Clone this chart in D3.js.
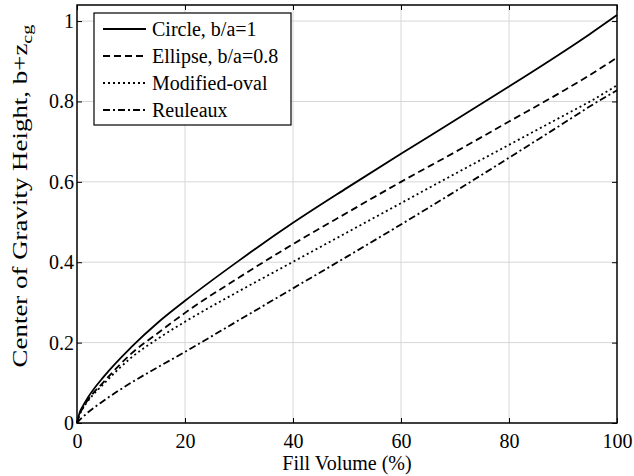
<!DOCTYPE html>
<html>
<head>
<meta charset="utf-8">
<script src="https://cdn.jsdelivr.net/npm/d3@7/dist/d3.min.js"></script>
<style>
  html, body { margin: 0; padding: 0; background: #fff; }
  svg { display: block; }
  svg text { font-family: "Liberation Serif", "DejaVu Serif", serif !important; fill: #000; }
</style>
</head>
<body>
<svg id="chart" width="634" height="476"></svg>
<script>
// ---- data ----
const fillVolume = [0, 0.5, 1, 2, 5, 10, 15, 20, 30, 40, 50, 60, 70, 80, 90, 95, 100];
const circle      = [0, 0.026, 0.040, 0.063, 0.116, 0.188, 0.250, 0.304, 0.404, 0.498, 0.585, 0.670, 0.753, 0.837, 0.923, 0.968, 1.015];
const ellipse     = [0, 0.022, 0.036, 0.057, 0.103, 0.172, 0.224, 0.274, 0.362, 0.445, 0.523, 0.600, 0.674, 0.750, 0.826, 0.866, 0.909];
const modifiedOval= [0, 0.021, 0.034, 0.054, 0.098, 0.162, 0.210, 0.252, 0.328, 0.401, 0.474, 0.547, 0.620, 0.692, 0.764, 0.800, 0.840];
const reuleaux    = [0, 0.008, 0.014, 0.026, 0.056, 0.100, 0.139, 0.177, 0.256, 0.335, 0.414, 0.494, 0.576, 0.660, 0.745, 0.788, 0.828];
const seriesNames = ["Circle, b/a=1", "Ellipse, b/a=0.8", "Modified-oval", "Reuleaux"];
const xTicks = [0, 20, 40, 60, 80, 100];
const yTicks = [0, 0.2, 0.4, 0.6, 0.8, 1];
const xLabel = "Fill Volume (%)";
const yLabelMain = "Center of Gravity Height, b+z";
const yLabelSub = "cg";

// ---- layout ----
const FONT = '"Liberation Serif", "DejaVu Serif", serif';
const L = 77, R = 617, T = 5, B = 423;
const svg = d3.select("#chart");
const x = d3.scaleLinear().domain([0, 100]).range([L, R]);
const y = d3.scaleLinear().domain([0, 1.04]).range([B, T]);

const dashes = [null, "7,4", "2,3", "7,3,2,3"];
const allSeries = [circle, ellipse, modifiedOval, reuleaux];

// grid
const grid = svg.append("g");
grid.selectAll(".gx").data(xTicks.filter(d => d > 0 && d < 100)).enter().append("line")
  .attr("x1", d => x(d)).attr("x2", d => x(d)).attr("y1", T).attr("y2", B)
  .attr("stroke", "#d6d6d6").attr("stroke-width", 1);
grid.selectAll(".gy").data(yTicks.filter(d => d > 0)).enter().append("line")
  .attr("x1", L).attr("x2", R).attr("y1", d => y(d)).attr("y2", d => y(d))
  .attr("stroke", "#d6d6d6").attr("stroke-width", 1);

// axes
function styleAxis(g, showLabels) {
  g.attr("font-family", FONT);
  g.select(".domain").remove();
  g.selectAll(".tick line").attr("stroke", "#000").attr("stroke-width", 1);
  if (!showLabels) g.selectAll(".tick text").remove();
  else g.selectAll(".tick text").attr("font-size", 20);
}
svg.append("g").attr("transform", `translate(0,${B})`)
  .call(d3.axisBottom(x).tickValues(xTicks).tickSize(-5).tickPadding(11).tickFormat(d3.format("d")))
  .call(g => styleAxis(g, true));
svg.append("g").attr("transform", `translate(0,${T})`)
  .call(d3.axisTop(x).tickValues(xTicks).tickSize(-5))
  .call(g => styleAxis(g, false));
svg.append("g").attr("transform", `translate(${L},0)`)
  .call(d3.axisLeft(y).tickValues(yTicks).tickSize(-5).tickPadding(3).tickFormat(d => d === 0 ? "0" : d === 1 ? "1" : d3.format(".1f")(d)))
  .call(g => styleAxis(g, true));
svg.append("g").attr("transform", `translate(${R},0)`)
  .call(d3.axisRight(y).tickValues(yTicks).tickSize(-5))
  .call(g => styleAxis(g, false));

// lines
const line = d3.line().curve(d3.curveMonotoneX);
allSeries.forEach((vals, i) => {
  svg.append("path")
    .attr("d", line(fillVolume.map((f, j) => [x(f), y(vals[j])])))
    .attr("fill", "none").attr("stroke", "#000").attr("stroke-width", 1.8)
    .attr("stroke-dasharray", dashes[i]);
});

// box
svg.append("rect").attr("x", L).attr("y", T).attr("width", R - L).attr("height", B - T)
  .attr("fill", "none").attr("stroke", "#000").attr("stroke-width", 1.5);

// axis labels
svg.append("text").attr("x", (L + R) / 2).attr("y", 470).attr("text-anchor", "middle")
  .attr("font-family", FONT).attr("font-size", 20).text(xLabel);
const ylg = svg.append("g").attr("transform", "translate(27,196) rotate(-90)");
const yl = ylg.append("text").attr("text-anchor", "middle")
  .attr("font-family", FONT).attr("font-size", 20);
yl.append("tspan").text(yLabelMain);
yl.append("tspan").attr("dy", 5).attr("font-size", 15).text(yLabelSub);
// stretch along the text direction to the reference's label length (~343 px)
const len = yl.node().getComputedTextLength();
if (len > 0) yl.attr("transform", `scale(${343 / len},1)`);

// legend
const lg = svg.append("g");
lg.append("rect").attr("x", 94).attr("y", 13).attr("width", 197).attr("height", 112)
  .attr("fill", "#fff").attr("stroke", "#000").attr("stroke-width", 1.2);
seriesNames.forEach((name, i) => {
  const cy = 29 + i * 27;
  lg.append("line").attr("x1", 103).attr("x2", 146).attr("y1", cy).attr("y2", cy)
    .attr("stroke", "#000").attr("stroke-width", 1.8).attr("stroke-dasharray", dashes[i]);
  lg.append("text").attr("x", 152).attr("y", cy).attr("dy", "0.35em")
    .attr("font-family", FONT).attr("font-size", 20).text(name);
});
</script>
</body>
</html>
